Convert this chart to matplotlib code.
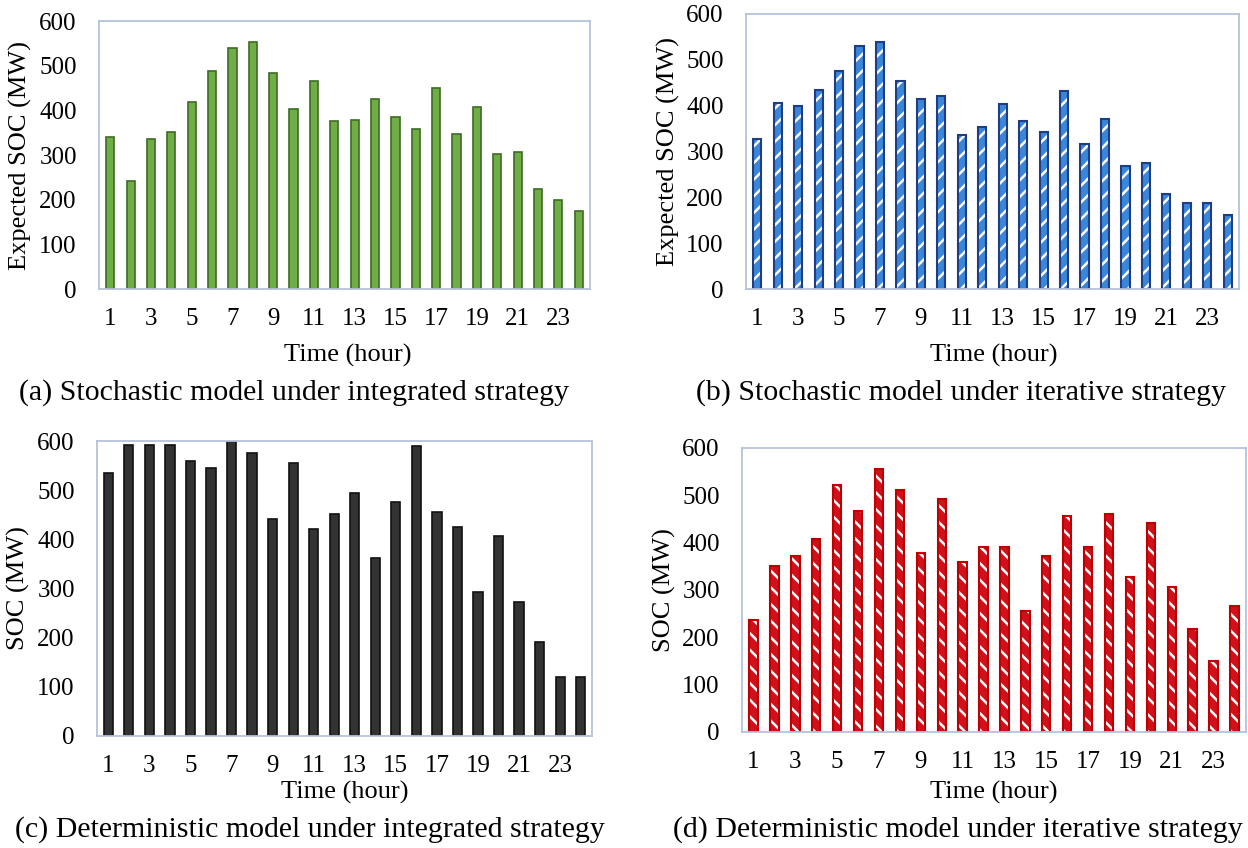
import matplotlib
matplotlib.use('Agg')
import matplotlib.pyplot as plt
import numpy as np

plt.rcParams['font.family'] = ['Liberation Serif', 'DejaVu Serif']
plt.rcParams['hatch.linewidth'] = 1.8

hours = np.arange(1, 25)
tick_hours = list(range(1, 24, 2))

soc_stoch_integrated = [340, 241, 335, 351, 419, 487, 540, 552, 484, 402, 466, 377,
                        379, 425, 385, 358, 451, 346, 407, 303, 306, 223, 199, 174]
soc_stoch_iterative = [328, 405, 399, 434, 476, 530, 538, 453, 414, 421, 335, 353,
                       403, 366, 342, 432, 316, 370, 269, 274, 207, 187, 187, 162]
soc_det_integrated = [535, 592, 592, 592, 559, 545, 600, 575, 441, 555, 422, 452,
                      495, 362, 476, 590, 456, 426, 292, 406, 273, 192, 120, 120]
soc_det_iterative = [236, 350, 372, 407, 522, 466, 556, 512, 378, 492, 359, 391,
                     391, 256, 371, 456, 390, 460, 327, 441, 307, 217, 151, 267]

captions = ['(a) Stochastic model under integrated strategy',
            '(b) Stochastic model under iterative strategy',
            '(c) Deterministic model under integrated strategy',
            '(d) Deterministic model under iterative strategy']
ylabels = ['Expected SOC (MW)', 'Expected SOC (MW)', 'SOC (MW)', 'SOC (MW)']

W, H = 1248, 848
fig = plt.figure(figsize=(W / 100, H / 100), dpi=100)


def px_axes(left, top, right, bottom):
    return fig.add_axes([left / W, 1 - bottom / H, (right - left) / W, (bottom - top) / H])


def style(ax, ylabel, ylab_x):
    ax.set_xlim(0.45, 24.55)
    ax.set_ylim(0, 600)
    ax.set_yticks(range(0, 601, 100))
    ax.set_xticks(tick_hours)
    ax.tick_params(length=0, labelsize=18)
    ax.tick_params(axis='x', pad=14)
    ax.tick_params(axis='y', pad=16)
    for s in ax.spines.values():
        s.set_color('#b4c3da')
        s.set_linewidth(1.3)
    pos = ax.get_position()
    fig.text(ylab_x / W, pos.y0 + pos.height / 2, ylabel, rotation=90,
             ha='center', va='center', fontsize=19)


def label(x, y, txt, size):
    fig.text(x / W, 1 - y / H, txt, ha='center', va='center', fontsize=size)


# (a)
ax = px_axes(99, 21, 590, 289)
ax.bar(hours, soc_stoch_integrated, width=0.4, color='#70ad47', edgecolor='#3e6b24', linewidth=1.2)
style(ax, ylabels[0], 20)
label(348, 355, 'Time (hour)', 19)
label(294, 393, captions[0], 21.5)

# (b)
ax = px_axes(746, 14, 1239, 289)
ax.bar(hours, soc_stoch_iterative, width=0.4, color='#3a86d8', edgecolor='white',
       linewidth=0, hatch='//')
ax.bar(hours, soc_stoch_iterative, width=0.4, fill=False, edgecolor='#1f3d85', linewidth=1.5)
style(ax, ylabels[1], 668)
label(994, 355, 'Time (hour)', 19)
label(961, 393, captions[1], 21.5)

# (c)
ax = px_axes(97, 441, 592, 736)
ax.bar(hours, soc_det_integrated, width=0.45, color='#333333', edgecolor='#111111', linewidth=1.2)
style(ax, ylabels[2], 18)
label(345, 792, 'Time (hour)', 19)
label(310, 830, captions[2], 21.5)

# (d)
ax = px_axes(742, 448, 1246, 732)
ax.bar(hours, soc_det_iterative, width=0.4, color='#d0101a', edgecolor='white',
       linewidth=0, hatch='\\\\')
ax.bar(hours, soc_det_iterative, width=0.4, fill=False, edgecolor='#c00000', linewidth=1.5)
style(ax, ylabels[3], 664)
label(994, 792, 'Time (hour)', 19)
label(958, 830, captions[3], 21.5)

fig.savefig('out.png', dpi=100)
